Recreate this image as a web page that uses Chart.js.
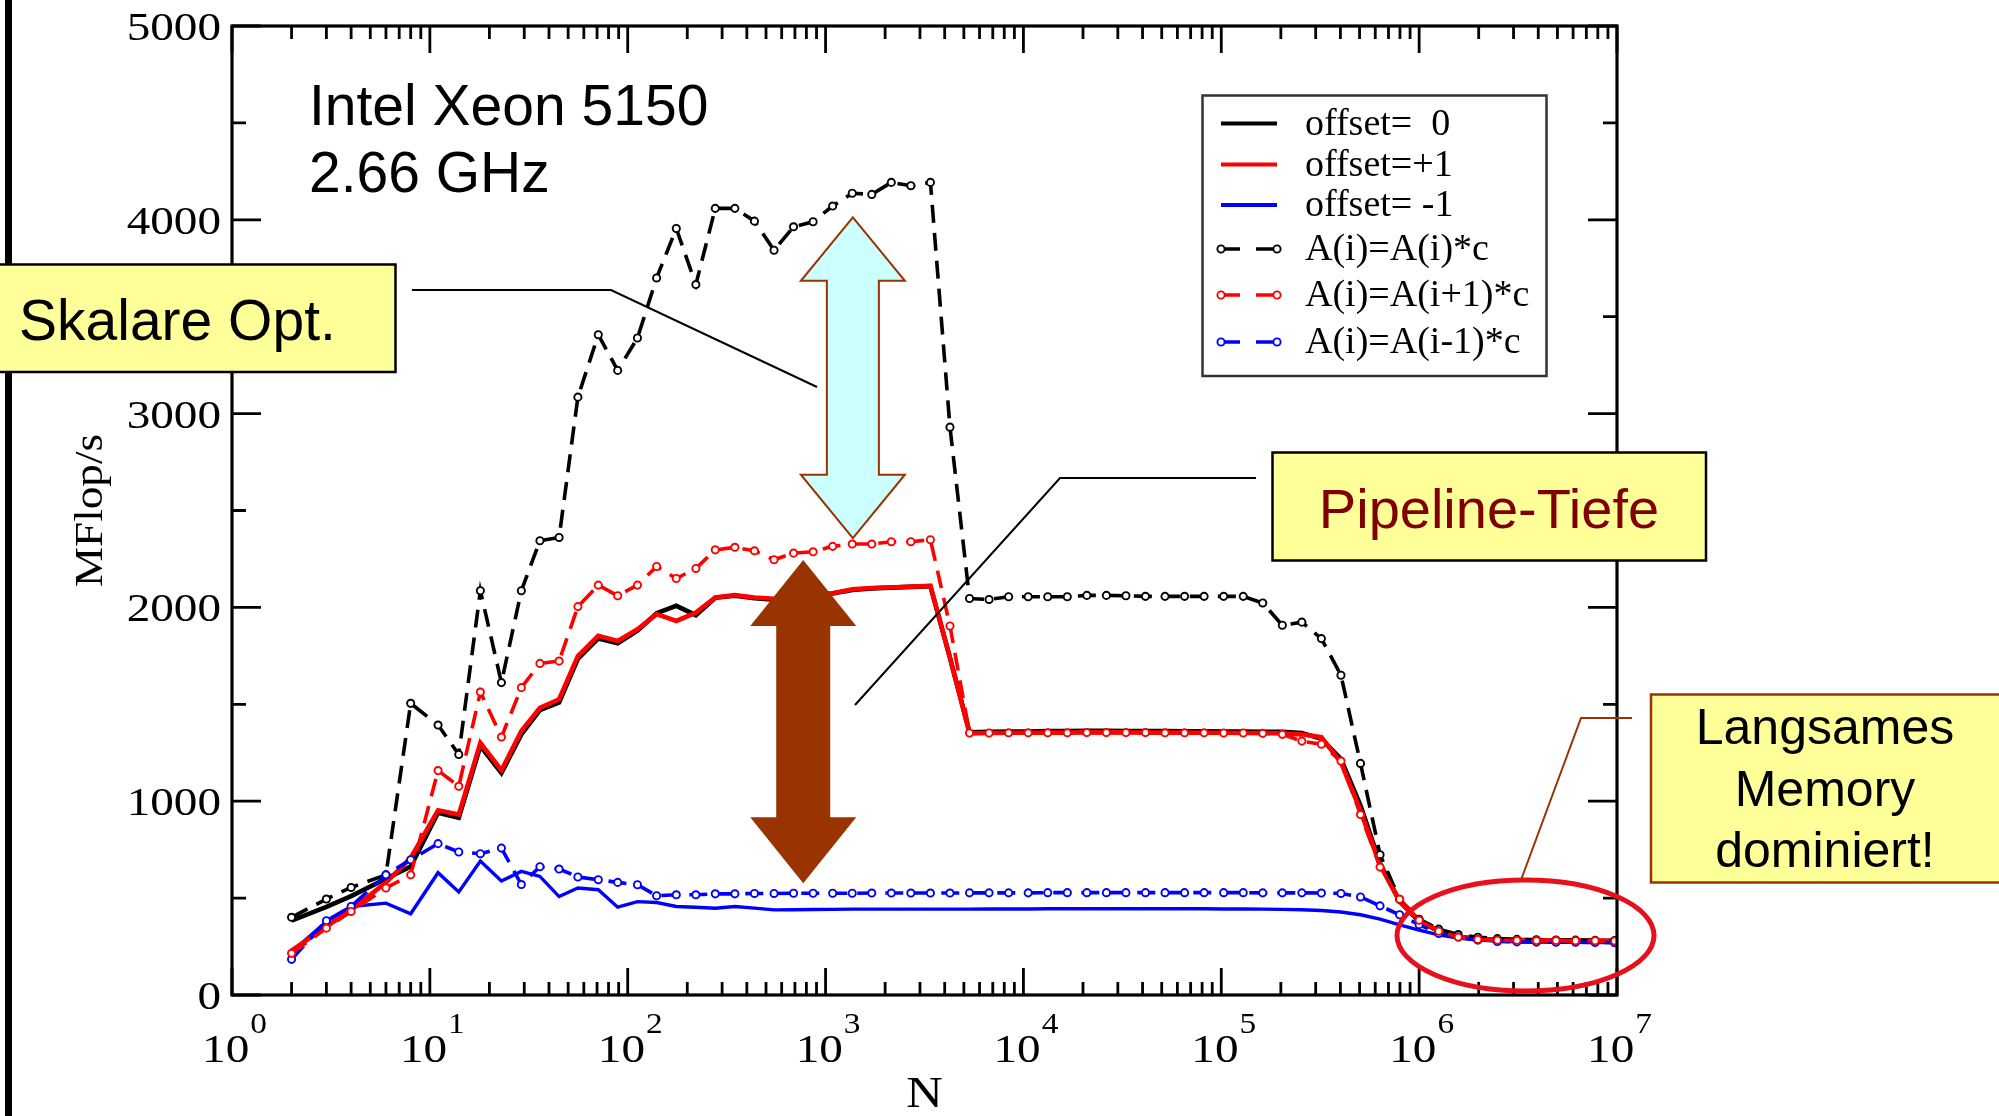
<!DOCTYPE html>
<html lang="de">
<head>
<meta charset="utf-8">
<title>Intel Xeon 5150 – MFlop/s über N</title>
<script src="https://cdn.jsdelivr.net/npm/chart.js@4.4.1/dist/chart.umd.min.js"></script>
<style>
  html, body { margin: 0; padding: 0; background: #fff; }
  #wrap { width: 1999px; height: 1116px; }
</style>
</head>
<body>
<div id="wrap"><canvas id="perf" width="1999" height="1116"></canvas></div>
<script>
// Vektorlänge N
const N = [
  2, 3, 4, 6, 8,
  11, 14, 18, 23, 29, 36, 45, 56, 71, 89,
  112, 140, 176, 221, 277, 348, 437, 549, 689, 865,
  1086, 1364, 1712, 2149, 2698, 3388, 4254,
  5340, 6705, 8418, 10570, 13270, 16660, 20910, 26260, 32960, 41380,
  51950, 65230, 81900, 102800, 129100, 162000, 203500, 255400, 320600, 402600,
  505400, 634500, 796600, 1000000, 1256000, 1577000, 1979000, 2485000, 3119000, 3916000,
  4917000, 6173000, 7750000, 9730000
];

// MFlop/s, offset = 0 / +1 / -1
const off0 = [
  384, 455, 510, 600, 663,
  940, 915, 1285, 1145, 1345, 1470, 1510, 1735, 1840, 1815,
  1880, 1970, 2008, 1960, 2050, 2060, 2048, 2040, 2058, 2066,
  2072, 2090, 2098, 2102, 2106, 2110, 1740,
  1356, 1358, 1360, 1360, 1362, 1362, 1363, 1363, 1362, 1362,
  1362, 1361, 1361, 1360, 1360, 1358, 1358,
  1352, 1322, 1218,
  977, 678, 483, 380, 330, 300, 290, 285, 283, 282,
  281, 280, 280, 279
];
const offP1 = [
  229, 353, 439, 580, 707,
  953, 931, 1301, 1160, 1362, 1482, 1526, 1749, 1853, 1827,
  1887, 1965, 1930, 1973, 2051, 2063, 2051, 2045, 2060, 2068,
  2073, 2094, 2100, 2103, 2107, 2111, 1740,
  1350, 1352, 1353, 1353, 1354, 1354, 1355, 1355, 1355, 1354,
  1354, 1354, 1353, 1353, 1352, 1352, 1350,
  1345, 1330, 1200,
  950, 670, 485, 385, 330, 300, 290, 285, 283, 282,
  282, 281, 281, 280
];
const offM1 = [
  222, 379, 457, 474, 419,
  631, 532, 691, 588, 638, 612, 508, 552, 543, 453,
  482, 477, 457, 453, 448, 457, 448, 439, 440, 441,
  442, 443, 443, 443, 443, 443, 443,
  443, 444, 444, 444, 445, 445, 445, 445, 445, 445,
  445, 445, 445, 444, 444, 443, 442,
  440, 436, 428,
  414, 392, 362, 335, 310, 294, 284, 278, 275, 273,
  272, 272, 271, 270
];

// MFlop/s mit Abhängigkeit: A(i)=A(i)*c, A(i)=A(i+1)*c, A(i)=A(i-1)*c
const dep0 = [
  401, 495, 555, 620, 1505,
  1393, 1241, 2086, 1612, 2086, 2344, 2361, 3085, 3407, 3223,
  3390, 3700, 3955, 3666, 4059, 4059, 3993, 3843, 3964, 3990,
  4071, 4137, 4131, 4193, 4176, 4193, 2930,
  2046, 2041, 2055, 2055, 2055, 2055, 2062, 2062, 2060, 2057,
  2057, 2057, 2057, 2057, 2057, 2023, 1908,
  1924, 1839, 1650,
  1195, 724, 494, 391, 340, 312, 298, 291, 287, 285,
  284, 283, 282, 281
];
const depP1 = [
  215, 345, 431, 552, 620,
  1158, 1077, 1563, 1331, 1586, 1711, 1723, 2004, 2115, 2060,
  2115, 2211, 2149, 2201, 2297, 2310, 2292, 2246, 2280, 2287,
  2315, 2327, 2327, 2339, 2339, 2349, 1904,
  1352, 1352, 1353, 1353, 1353, 1353, 1354, 1354, 1354, 1354,
  1353, 1353, 1353, 1352, 1352, 1350, 1345,
  1310, 1294, 1207,
  931, 660, 494, 386, 329, 299, 287, 283, 282, 281,
  281, 280, 280, 279
];
const depM1 = [
  184, 383, 457, 620, 698,
  781, 738, 729, 758, 570, 662, 650, 609, 595, 581,
  569, 512, 517, 517, 522, 522, 524, 524, 525, 525,
  525, 525, 526, 526, 526, 526, 526,
  527, 527, 527, 527, 528, 528, 528, 528, 528, 528,
  528, 528, 528, 528, 528, 527, 527,
  527, 526, 524,
  506, 460, 414, 363, 317, 299, 283, 276, 274, 273,
  272, 272, 271, 270
];

const labels = ["offset=  0", "offset=+1", "offset= -1", "A(i)=A(i)*c", "A(i)=A(i+1)*c", "A(i)=A(i-1)*c"];
const xExp   = [0, 1, 2, 3, 4, 5, 6, 7];
const yTicks = [0, 1000, 2000, 3000, 4000, 5000];

const SERIF = "'Liberation Serif', 'Times New Roman', serif";
const SANS  = "'Liberation Sans', Arial, sans-serif";
const DASH  = [18, 10];

const pts = arr => N.map((n, i) => ({ x: n, y: arr[i] }));

function lineSet(label, data, color, width, order) {
  return { label, data: pts(data), borderColor: color, borderWidth: width,
           pointRadius: 0, fill: false, tension: 0, order };
}
function dashSet(label, data, color, order) {
  return { label, data: pts(data), borderColor: color, borderWidth: 3.6, borderDash: DASH,
           pointRadius: 3.6, pointBorderWidth: 1.9, pointBorderColor: color,
           pointBackgroundColor: "#fff", fill: false, tension: 0, order };
}

// Text mit horizontaler Streckung (Grace-Schrift ist breiter)
function wideText(ctx, txt, x, y, sx, align) {
  const w = ctx.measureText(txt).width * sx;
  const x0 = align === "center" ? x - w / 2 : align === "right" ? x - w : x;
  ctx.save();
  ctx.translate(x0, y);
  ctx.scale(sx, 1);
  ctx.textAlign = "left";
  ctx.fillText(txt, 0, 0);
  ctx.restore();
}

function doubleArrow(ctx, cx, ty, by, hw, sw, hl) {
  ctx.beginPath();
  ctx.moveTo(cx, ty);
  ctx.lineTo(cx + hw, ty + hl);
  ctx.lineTo(cx + sw, ty + hl);
  ctx.lineTo(cx + sw, by - hl);
  ctx.lineTo(cx + hw, by - hl);
  ctx.lineTo(cx, by);
  ctx.lineTo(cx - hw, by - hl);
  ctx.lineTo(cx - sw, by - hl);
  ctx.lineTo(cx - sw, ty + hl);
  ctx.lineTo(cx - hw, ty + hl);
  ctx.closePath();
}

function noteBox(ctx, x0, y0, x1, y1, border) {
  ctx.fillStyle = "#ffff99";
  ctx.fillRect(x0, y0, x1 - x0, y1 - y0);
  ctx.strokeStyle = border;
  ctx.lineWidth = 2.5;
  ctx.strokeRect(x0, y0, x1 - x0, y1 - y0);
}

function polyline(ctx, p, color, w) {
  ctx.strokeStyle = color;
  ctx.lineWidth = w;
  ctx.beginPath();
  ctx.moveTo(p[0][0], p[0][1]);
  p.slice(1).forEach(q => ctx.lineTo(q[0], q[1]));
  ctx.stroke();
}

// Rahmen, Ticks, Beschriftung, Legende und Kommentare
const overlay = {
  id: "overlay",
  afterDraw(chart) {
    const { ctx, chartArea: a } = chart;
    const xs = chart.scales.x, ys = chart.scales.y;
    ctx.save();

    // schwarzer Folienrand links
    ctx.fillStyle = "#000";
    ctx.fillRect(5, 0, 7, chart.height);

    ctx.strokeStyle = "#000";
    ctx.lineWidth = 3.2;
    ctx.strokeRect(a.left, a.top, a.right - a.left, a.bottom - a.top);

    // Ticks nach innen, oben/unten und links/rechts
    ctx.lineWidth = 2.8;
    ctx.beginPath();
    xExp.forEach(e => {
      for (let m = 1; m <= 9; m++) {
        if (e === 7 && m > 1) break;
        const px = xs.getPixelForValue(m * Math.pow(10, e));
        const len = m === 1 ? 27 : 13;
        ctx.moveTo(px, a.bottom); ctx.lineTo(px, a.bottom - len);
        ctx.moveTo(px, a.top);    ctx.lineTo(px, a.top + len);
      }
    });
    for (let v = 0; v <= 5000; v += 500) {
      const py = ys.getPixelForValue(v);
      const len = v % 1000 === 0 ? 29 : 14;
      ctx.moveTo(a.left, py);  ctx.lineTo(a.left + len, py);
      ctx.moveTo(a.right, py); ctx.lineTo(a.right - len, py);
    }
    ctx.stroke();

    // y-Beschriftung
    ctx.fillStyle = "#000";
    ctx.font = "41px " + SERIF;
    yTicks.forEach(v => {
      wideText(ctx, String(v), a.left - 11, ys.getPixelForValue(v) + 14, 1.15, "right");
    });

    // x-Beschriftung 10^e
    xExp.forEach(e => {
      const px = xs.getPixelForValue(Math.pow(10, e)) + 2;
      ctx.font = "41px " + SERIF;
      const wb = ctx.measureText("10").width * 1.15;
      ctx.font = "29px " + SERIF;
      const we = ctx.measureText(String(e)).width * 1.15;
      const x0 = px - (wb + we) / 2;
      ctx.font = "41px " + SERIF;
      wideText(ctx, "10", x0, 1062, 1.15, "left");
      ctx.font = "29px " + SERIF;
      wideText(ctx, String(e), x0 + wb + 1, 1033, 1.15, "left");
    });

    // Achsentitel
    ctx.font = "44px " + SERIF;
    wideText(ctx, "N", (a.left + a.right) / 2, 1107, 1.15, "center");
    ctx.save();
    ctx.translate(89, (a.top + a.bottom) / 2);
    ctx.rotate(-Math.PI / 2);
    ctx.font = "40px " + SERIF;
    wideText(ctx, "MFlop/s", 0, 13, 1.13, "center");
    ctx.restore();

    // Legende
    const lx0 = 1202.5, ly0 = 95.5, lx1 = 1546.5, ly1 = 376;
    const rowY = [123.5, 164.5, 205, 249, 295, 342];
    ctx.fillStyle = "#fff";
    ctx.fillRect(lx0, ly0, lx1 - lx0, ly1 - ly0);
    ctx.strokeStyle = "#333";
    ctx.lineWidth = 2.5;
    ctx.strokeRect(lx0, ly0, lx1 - lx0, ly1 - ly0);
    chart.data.datasets.forEach((ds, i) => {
      const y = rowY[i];
      ctx.strokeStyle = ds.borderColor;
      if (ds.borderDash) {
        ctx.lineWidth = 3.6;
        ctx.beginPath();
        ctx.moveTo(1221, y); ctx.lineTo(1240, y);
        ctx.moveTo(1256, y); ctx.lineTo(1277, y);
        ctx.stroke();
        ctx.lineWidth = 1.9;
        [1221, 1277].forEach(cx => {
          ctx.beginPath();
          ctx.arc(cx, y, 3.6, 0, 2 * Math.PI);
          ctx.fillStyle = "#fff";
          ctx.fill();
          ctx.stroke();
        });
      } else {
        ctx.lineWidth = 4;
        ctx.beginPath();
        ctx.moveTo(1221, y); ctx.lineTo(1277, y);
        ctx.stroke();
      }
      ctx.fillStyle = "#000";
      ctx.font = "38px " + SERIF;
      ctx.textAlign = "left";
      ctx.fillText(ds.label, 1305, y + 11);
    });

    // Prozessor
    ctx.fillStyle = "#000";
    ctx.font = "57px " + SANS;
    ctx.textAlign = "left";
    ctx.fillText("Intel Xeon 5150", 309, 125);
    ctx.fillText("2.66 GHz", 309, 192);

    // Doppelpfeile
    const cxA = xs.getPixelForValue(1374);
    doubleArrow(ctx, cxA, ys.getPixelForValue(4013), ys.getPixelForValue(2357), 52, 26, 63.5);
    ctx.fillStyle = "#ccffff";
    ctx.fill();
    ctx.strokeStyle = "#993300";
    ctx.lineWidth = 2;
    ctx.stroke();

    const cxB = xs.getPixelForValue(771);
    doubleArrow(ctx, cxB, ys.getPixelForValue(2245), ys.getPixelForValue(576), 53, 27, 66);
    ctx.fillStyle = "#993300";
    ctx.fill();

    // rote Ellipse um den Speicherbereich
    ctx.beginPath();
    ctx.ellipse(xs.getPixelForValue(3448000), ys.getPixelForValue(307), 128.5, 55.5, 0, 0, 2 * Math.PI);
    ctx.strokeStyle = "#e8101a";
    ctx.lineWidth = 5;
    ctx.stroke();

    // Hinweislinien
    polyline(ctx, [[412, 290], [611, 290], [817, 387]], "#000", 2);
    polyline(ctx, [[1256, 478], [1060, 478], [855, 705]], "#000", 2);
    polyline(ctx, [[1632, 718], [1581, 718], [1521, 880]], "#993300", 2);

    // Kästen
    noteBox(ctx, -3, 264.5, 395.5, 372, "#000");
    ctx.fillStyle = "#000";
    ctx.font = "57px " + SANS;
    ctx.textAlign = "left";
    ctx.fillText("Skalare Opt.", 19, 340);

    noteBox(ctx, 1272.5, 452.5, 1706, 560.5, "#000");
    ctx.fillStyle = "#800000";
    ctx.font = "56px " + SANS;
    ctx.textAlign = "center";
    ctx.fillText("Pipeline-Tiefe", 1489, 528);

    noteBox(ctx, 1651, 694.5, 2003, 882.5, "#993300");
    ctx.fillStyle = "#000";
    ctx.font = "50px " + SANS;
    ctx.fillText("Langsames", 1825, 744);
    ctx.fillText("Memory", 1825, 806);
    ctx.fillText("dominiert!", 1825, 867);

    ctx.restore();
  }
};

new Chart(document.getElementById("perf").getContext("2d"), {
  type: "line",
  data: {
    datasets: [
      lineSet(labels[0], off0,  "#000000", 4.6, 4),
      lineSet(labels[1], offP1, "#ff0000", 4.6, 3),
      lineSet(labels[2], offM1, "#0000ff", 3.4, 5),
      dashSet(labels[3], dep0,  "#000000", 2),
      dashSet(labels[4], depP1, "#ff0000", 0),
      dashSet(labels[5], depM1, "#0000ff", 1)
    ]
  },
  options: {
    responsive: false,
    animation: false,
    devicePixelRatio: 1,
    layout: { autoPadding: false, padding: { left: 0, top: 26, right: 382, bottom: 0 } },
    plugins: { legend: { display: false }, tooltip: { enabled: false } },
    scales: {
      x: {
        type: "logarithmic", min: 1, max: 1e7,
        ticks: { display: false },
        grid: { display: false, drawTicks: false },
        border: { display: false },
        afterFit: s => { s.height = 121; }
      },
      y: {
        type: "linear", min: 0, max: 5000,
        ticks: { display: false, stepSize: 1000 },
        grid: { display: false, drawTicks: false },
        border: { display: false },
        afterFit: s => { s.width = 232; }
      }
    }
  },
  plugins: [overlay]
});
</script>
</body>
</html>
